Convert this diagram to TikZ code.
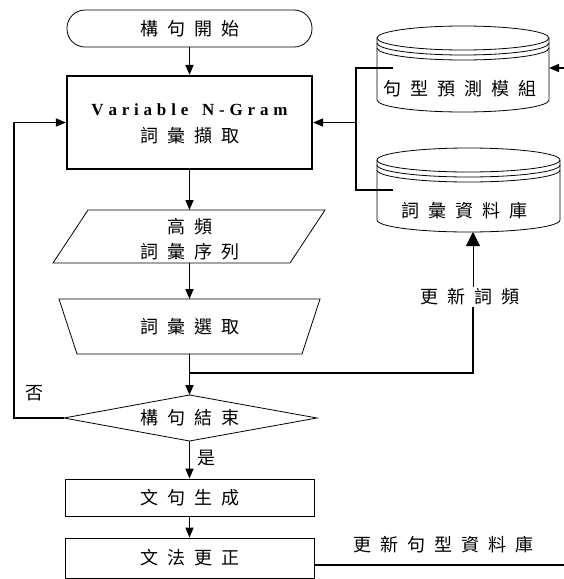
\documentclass[tikz,border=0pt]{standalone}
\usepackage{fontspec}
\setmainfont{Liberation Serif}
\newfontfamily\cjk{Noto Sans CJK TC}
\usetikzlibrary{arrows.meta}
\makeatletter
\newcommand\lsp[2]{\def\lsp@gap{#1}\let\lsp@sep\relax\@tfor\lsp@c:=#2\do{\lsp@sep\lsp@c\def\lsp@sep{\hspace{\lsp@gap}}}}
\makeatother
\newcommand\cj[1]{\lsp{9pt}{#1}}
\begin{document}
\begin{tikzpicture}[x=1pt,y=-1pt,
  cjkt/.style={font=\cjk\fontsize{18}{21}\selectfont, inner sep=1pt},
  boxline/.style={draw, line width=0.8pt},
  arr/.style={-{Triangle[length=10pt,width=8pt]}, line width=1.6pt},
  bigarr/.style={-{Triangle[length=14pt,width=14pt]}, line width=0.8pt},
  conn/.style={line width=1.6pt}
]
\useasboundingbox (0,0) rectangle (564,579);

% start terminator
\node[boxline, rounded corners=18pt, minimum width=245pt, minimum height=37pt, cjkt] (start) at (189.5,28.5) {\cj{構句開始}};

% main process
\node[draw, line width=2.2pt, minimum width=245pt, minimum height=93pt] (main) at (189.5,122.5) {};
\node[font=\fontsize{17}{19}\selectfont\bfseries, inner sep=0pt] (mainA) at (189.5,110) {\lsp{4.8pt}{Variable{~}N-Gram}};
\node[cjkt] (mainB) at (189.5,136) {\cj{詞彙擷取}};

% parallelogram
\draw[line width=0.8pt] (88,210) -- (325,210) -- (290,263) -- (53,263) -- cycle;
\coordinate (pN) at (189.5,210);
\coordinate (pS) at (189.5,263);
\node[cjkt] (pA) at (189.5,227) {\cj{高頻}};
\node[cjkt] (pB) at (189.5,252) {\cj{詞彙序列}};

% trapezoid
\draw[line width=0.8pt] (59,299) -- (320,299) -- (302,354) -- (77,354) -- cycle;
\coordinate (tN) at (189.5,299);
\coordinate (tS) at (189.5,354);
\node[cjkt] (tA) at (189.5,327) {\cj{詞彙選取}};

% diamond
\draw[line width=0.8pt] (64,418) -- (189.5,395) -- (317,418) -- (189.5,441) -- cycle;
\coordinate (dN) at (189.5,395);
\coordinate (dS) at (189.5,441);
\coordinate (dW) at (64,418);
\node[cjkt] (dA) at (189.5,418) {\cj{構句結束}};

% boxes
\node[boxline, minimum width=249pt, minimum height=37pt, cjkt] (b1) at (189.5,497.5) {\cj{文句生成}};
\node[boxline, minimum width=249pt, minimum height=40pt, cjkt] (b2) at (189.5,558) {\cj{文法更正}};

% database 1
\draw[line width=0.8pt, fill=white] (377,38) -- (377,100) arc[start angle=180, end angle=360, x radius=86pt, y radius=12pt] -- (549,38);
\draw[line width=0.8pt] (463,38) ellipse[x radius=86pt, y radius=12pt];
\draw[line width=0.8pt] (377,43) arc[start angle=180, end angle=360, x radius=86pt, y radius=12pt];
\draw[line width=0.8pt] (377,48) arc[start angle=180, end angle=360, x radius=86pt, y radius=12pt];
\node[cjkt] (db1) at (460,89) {\cj{句型預測模組}};
\coordinate (db1E) at (549,68);

% database 2
\draw[line width=0.8pt, fill=white] (377,160) -- (377,220) arc[start angle=180, end angle=360, x radius=91.5pt, y radius=12pt] -- (560,160);
\draw[line width=0.8pt] (468.5,160) ellipse[x radius=91.5pt, y radius=12pt];
\draw[line width=0.8pt] (377,165) arc[start angle=180, end angle=360, x radius=91.5pt, y radius=12pt];
\draw[line width=0.8pt] (377,170) arc[start angle=180, end angle=360, x radius=91.5pt, y radius=12pt];
\node[cjkt] (db2) at (464,211) {\cj{詞彙資料庫}};
\coordinate (db2S) at (473,232);

% bracket from databases to main
\coordinate (bk1) at (356,68);
\coordinate (bk2) at (356,190);
\coordinate (bk3) at (356,122.5);
\coordinate (bk1e) at (393,68);
\coordinate (bk2e) at (393,190);
\draw[conn] (bk1e) -- (bk1) -- (bk2) -- (bk2e);
\draw[arr] (bk3) -- (main.east);
\coordinate (rin) at (564,68);
\draw[arr] (rin) -- (db1E);

% main flow
\draw[arr] (start) -- (main);
\draw[arr] (main.south) -- (pN);
\draw[arr] (pS) -- (tN);
\draw[arr] (tS) -- (dN);
\draw[arr] (dS) -- node[cjkt, right, pos=0.45, xshift=6pt] (yes) {是} (b1);
\draw[arr] (b1) -- (b2);

% update word frequency
\coordinate (br) at (189.5,373);
\coordinate (brE) at (473,373);
\node[cjkt, fill=white] (upd) at (470,297) {\cj{更新詞頻}};
\draw[conn] (br) -- (brE) -- (brE |- upd.south);
\draw[bigarr] (brE |- upd.north) -- (db2S);

% loop back
\coordinate (lp1) at (14,418);
\coordinate (lp2) at (14,122.5);
\draw[arr] (dW) -- (lp1) -- (lp2) -- (main.west);
\node[cjkt] (no) at (35,393) {否};

% update sentence DB
\coordinate (b2r) at (314,565);
\coordinate (b2rr) at (564,565);
\draw[conn] (b2r) -- (b2rr);
\node[cjkt] (updS) at (443,545) {\cj{更新句型資料庫}};
\end{tikzpicture}
\end{document}
